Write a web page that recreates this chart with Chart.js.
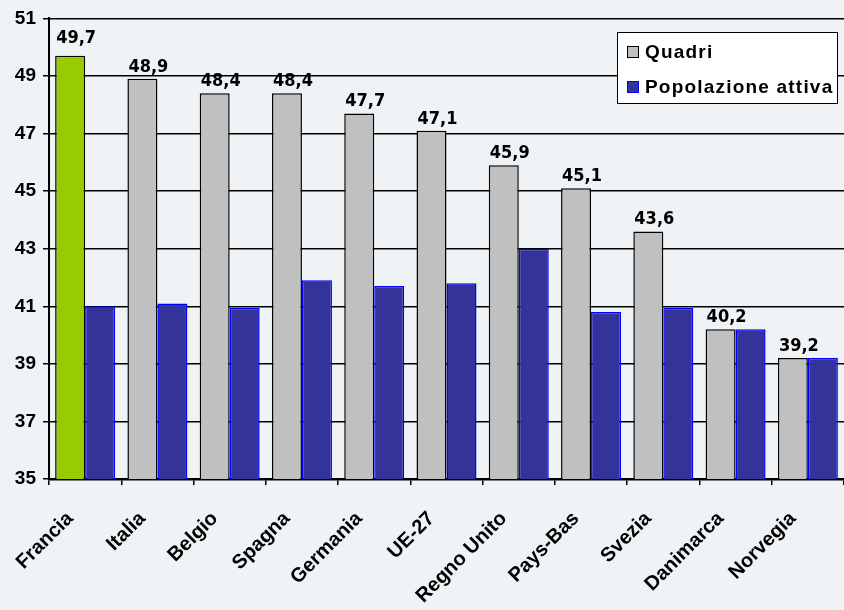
<!DOCTYPE html>
<html>
<head>
<meta charset="utf-8">
<script src="https://cdn.jsdelivr.net/npm/chart.js@4/dist/chart.umd.min.js"></script>
<style>
  html, body { margin: 0; padding: 0; background: #eff3f5; }
  #chart { display: block; }
</style>
</head>
<body>
<canvas id="chart" width="844" height="610"></canvas>
<script>
// Paesi (Francia evidenziata in verde)
const categories = ['Francia', 'Italia', 'Belgio', 'Spagna', 'Germania', 'UE-27',
  'Regno Unito', 'Pays-Bas', 'Svezia', 'Danimarca', 'Norvegia'];
// Quota % per età media - quadri
const quadri = [49.7, 48.9, 48.4, 48.4, 47.7, 47.1, 45.9, 45.1, 43.6, 40.2, 39.2];
// Popolazione attiva
const popolazioneAttiva = [41.0, 41.1, 40.95, 41.9, 41.7, 41.8, 43.0, 40.8, 40.95, 40.2, 39.2];
// Scala asse Y
const yMin = 35;
const yMax = 51;
const yStep = 2;

const bgColor = '#eff3f5';
const grey = '#c0c0c0';
const green = '#99cc00';
const navy = '#333399';

const quadriColors = quadri.map((v, i) => i === 0 ? green : grey);

// sfondo della pagina
const bgPlugin = {
  id: 'bg',
  beforeDraw(chart) {
    const ctx = chart.ctx;
    ctx.save();
    ctx.fillStyle = bgColor;
    ctx.fillRect(0, 0, chart.width, chart.height);
    ctx.restore();
  }
};

// etichette sopra le barre dei quadri
const valueLabels = {
  id: 'valueLabels',
  afterDatasetsDraw(chart) {
    const ctx = chart.ctx;
    const meta = chart.getDatasetMeta(0);
    ctx.save();
    ctx.font = 'bold 18px "DejaVu Sans Condensed", "DejaVu Sans", sans-serif';
    ctx.fillStyle = '#000';
    ctx.textAlign = 'center';
    ctx.textBaseline = 'alphabetic';
    meta.data.forEach((bar, i) => {
      const txt = quadri[i].toFixed(1).replace('.', ',');
      const gap = i === 0 ? 13 : 7;
      ctx.fillText(txt, bar.x + 6, bar.y - gap);
    });
    ctx.restore();
  }
};

// legenda in alto a destra
const boxLegend = {
  id: 'boxLegend',
  afterDraw(chart) {
    const ctx = chart.ctx;
    const x = 617.5, y = 32.5, w = 220, h = 71;
    ctx.save();
    ctx.fillStyle = '#ffffff';
    ctx.fillRect(x, y, w, h);
    ctx.strokeStyle = '#000';
    ctx.lineWidth = 1;
    ctx.strokeRect(x, y, w, h);
    const items = [
      { label: chart.data.datasets[0].label, fill: grey, stroke: '#000', cy: 52 },
      { label: chart.data.datasets[1].label, fill: navy, stroke: '#0000ff', cy: 87 }
    ];
    ctx.font = 'bold 19px "Liberation Sans", Arial, sans-serif';
    ctx.letterSpacing = '1.2px';
    ctx.textBaseline = 'middle';
    items.forEach(it => {
      ctx.fillStyle = it.fill;
      ctx.fillRect(627.5, it.cy - 5.5, 11, 11);
      ctx.strokeStyle = it.stroke;
      ctx.strokeRect(627.5, it.cy - 5.5, 11, 11);
      ctx.fillStyle = '#000';
      ctx.fillText(it.label, 645, it.cy + 1);
    });
    ctx.restore();
  }
};

new Chart(document.getElementById('chart'), {
  type: 'bar',
  data: {
    labels: categories,
    datasets: [
      {
        label: 'Quadri',
        data: quadri,
        backgroundColor: quadriColors,
        borderColor: '#000',
        borderWidth: 1.5,
        borderSkipped: 'bottom'
      },
      {
        label: 'Popolazione attiva',
        data: popolazioneAttiva,
        backgroundColor: navy,
        borderColor: '#0000ff',
        borderWidth: 1.5,
        borderSkipped: 'bottom'
      }
    ]
  },
  options: {
    responsive: false,
    animation: false,
    layout: { padding: { top: 18, right: -4, left: 0, bottom: 0 } },
    plugins: {
      legend: { display: false },
      tooltip: { enabled: false }
    },
    datasets: {
      bar: { categoryPercentage: 0.83, barPercentage: 1.0 }
    },
    scales: {
      x: {
        offset: true,
        grid: {
          display: true,
          drawOnChartArea: false,
          drawTicks: true,
          tickLength: 6,
          color: '#000',
          lineWidth: 1.5
        },
        border: { display: true, color: '#000', width: 2.5 },
        ticks: {
          color: '#000',
          font: { family: '"Liberation Sans", Arial, sans-serif', size: 20, weight: 'bold' },
          minRotation: 45,
          maxRotation: 45,
          padding: 22,
          labelOffset: -15,
          autoSkip: false
        },
        afterFit(scale) {
          scale.height = 131;
          // le etichette ruotate non devono restringere l'area del grafico
          scale.paddingLeft = 0;
          scale.paddingRight = 0;
        }
      },
      y: {
        min: yMin,
        max: yMax,
        grid: {
          color: '#000',
          lineWidth: 1.5,
          tickLength: 6
        },
        border: { display: true, color: '#000', width: 2 },
        ticks: {
          stepSize: yStep,
          color: '#000',
          padding: 7,
          font: { family: '"Liberation Sans", Arial, sans-serif', size: 19, weight: 'bold' },
          callback: v => String(v)
        },
        afterFit(scale) { scale.width = 49; }
      }
    }
  },
  plugins: [bgPlugin, valueLabels, boxLegend]
});
</script>
</body>
</html>
